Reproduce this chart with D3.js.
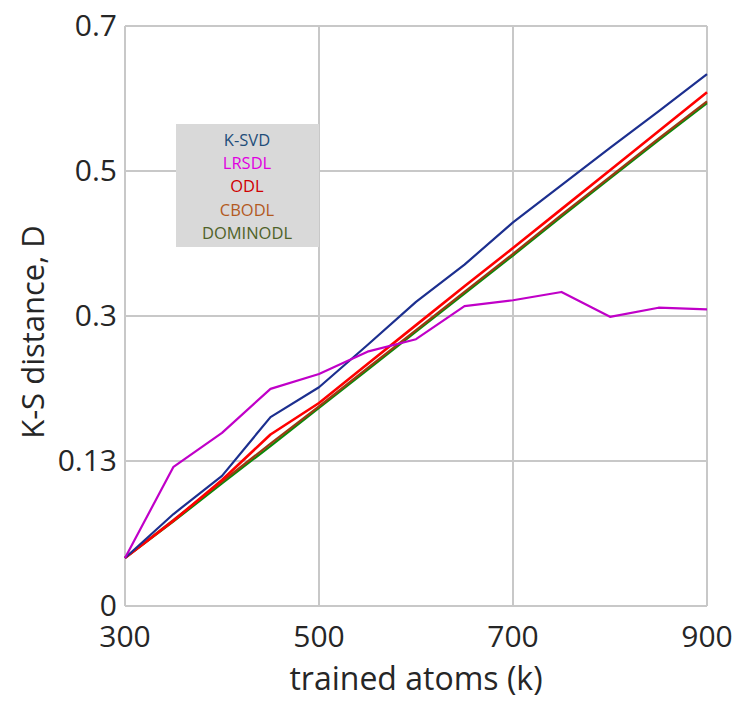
<!DOCTYPE html>
<html>
<head>
<meta charset="utf-8">
<script src="https://cdn.jsdelivr.net/npm/d3@7"></script>
<style>
  html, body { margin: 0; padding: 0; background: #fff; }
  svg text { font-family: "Open Sans", "Noto Sans", sans-serif; }
</style>
</head>
<body>
<div id="chart"></div>
<script>
// x values (trained atoms, k)
const atoms = [300, 350, 400, 450, 500, 550, 600, 650, 700, 750, 800, 850, 900];

// K-S distance for each method
const ksvd     = [0.058, 0.111, 0.157, 0.228, 0.264, 0.315, 0.367, 0.412, 0.463, 0.508, 0.553, 0.597, 0.642];
const lrsdl    = [0.058, 0.168, 0.209, 0.262, 0.280, 0.307, 0.322, 0.362, 0.369, 0.379, 0.349, 0.360, 0.358];
const odl      = [0.058, 0.103, 0.152, 0.207, 0.245, 0.292, 0.339, 0.386, 0.432, 0.479, 0.526, 0.573, 0.620];
const cbodl    = [0.058, 0.104, 0.150, 0.196, 0.241, 0.287, 0.333, 0.379, 0.425, 0.472, 0.518, 0.564, 0.609];
const dominodl = [0.058, 0.102, 0.148, 0.193, 0.239, 0.285, 0.331, 0.377, 0.423, 0.470, 0.516, 0.562, 0.607];

const seriesNames = ["K-SVD", "LRSDL", "ODL", "CBODL", "DOMINODL"];
const lineColors = ["#1c2f8f", "#c000c8", "#ff0000", "#9a3b12", "#0a8a0a"];
const legendColors = ["#1f4e79", "#e000e0", "#d00000", "#b35a1f", "#4f6228"];

// axis ticks
const xTicks = [300, 500, 700, 900];
const yTickLabels = ["0", "0.13", "0.3", "0.5", "0.7"];

const width = 736, height = 702;
const margin = {top: 26, right: 29, bottom: 96, left: 125};

const svg = d3.select("#chart").append("svg")
    .attr("width", width)
    .attr("height", height);

const x = d3.scaleLinear()
    .domain([300, 900])
    .range([margin.left, width - margin.right]);

const y = d3.scaleLinear()
    .domain([0, 0.7])
    .range([height - margin.bottom, margin.top]);

// evenly spaced grid positions, labelled as in the original
const yTicks = yTickLabels.map((d, i) => i * 0.7 / (yTickLabels.length - 1));

const gridColor = "#c8c8c8";

// grid
svg.append("g")
    .selectAll("line.h")
    .data(yTicks)
    .enter().append("line")
    .attr("x1", x(300)).attr("x2", x(900))
    .attr("y1", d => y(d)).attr("y2", d => y(d))
    .style("stroke", gridColor)
    .style("stroke-width", 2);

svg.append("g")
    .selectAll("line.v")
    .data(xTicks)
    .enter().append("line")
    .attr("x1", d => x(d)).attr("x2", d => x(d))
    .attr("y1", y(0)).attr("y2", y(0.7))
    .style("stroke", gridColor)
    .style("stroke-width", 2);

// y tick labels
svg.append("g")
    .selectAll("text")
    .data(yTicks)
    .enter().append("text")
    .attr("x", margin.left - 8)
    .attr("y", d => y(d))
    .attr("dy", "0.34em")
    .attr("text-anchor", "end")
    .style("font-size", "30px")
    .style("fill", "#262626")
    .text((d, i) => yTickLabels[i]);

// x tick labels
svg.append("g")
    .selectAll("text")
    .data(xTicks)
    .enter().append("text")
    .attr("x", d => x(d))
    .attr("y", y(0) + 41)
    .attr("text-anchor", "middle")
    .style("font-size", "30px")
    .style("fill", "#262626")
    .text(d => d);

// axis titles
svg.append("text")
    .attr("x", (x(300) + x(900)) / 2)
    .attr("y", 690)
    .attr("text-anchor", "middle")
    .style("font-size", "32px")
    .style("fill", "#262626")
    .text("trained atoms (k)");

svg.append("text")
    .attr("transform", "translate(44,332) rotate(-90)")
    .attr("text-anchor", "middle")
    .style("font-size", "31px")
    .style("fill", "#262626")
    .text("K-S distance, D");

// lines
const allSeries = [ksvd, lrsdl, odl, cbodl, dominodl];
const line = d3.line()
    .x((d, i) => x(atoms[i]))
    .y(d => y(d));

const drawOrder = [4, 3, 2, 0, 1];
svg.append("g")
    .selectAll("path")
    .data(drawOrder)
    .enter().append("path")
    .attr("d", k => line(allSeries[k]))
    .style("fill", "none")
    .style("stroke", k => lineColors[k])
    .style("stroke-width", k => k === 2 ? 2.6 : 2.2)
    .style("stroke-linejoin", "round");

// legend
const legend = svg.append("g");
legend.append("rect")
    .attr("x", 176).attr("y", 124)
    .attr("width", 143).attr("height", 123)
    .style("fill", "#d9d9d9");

legend.selectAll("text")
    .data(seriesNames)
    .enter().append("text")
    .attr("x", 247)
    .attr("y", (d, i) => 140 + i * 23.2)
    .attr("dy", "0.36em")
    .attr("text-anchor", "middle")
    .style("font-size", "16.5px")
    .style("fill", (d, i) => legendColors[i])
    .text(d => d);
</script>
</body>
</html>
